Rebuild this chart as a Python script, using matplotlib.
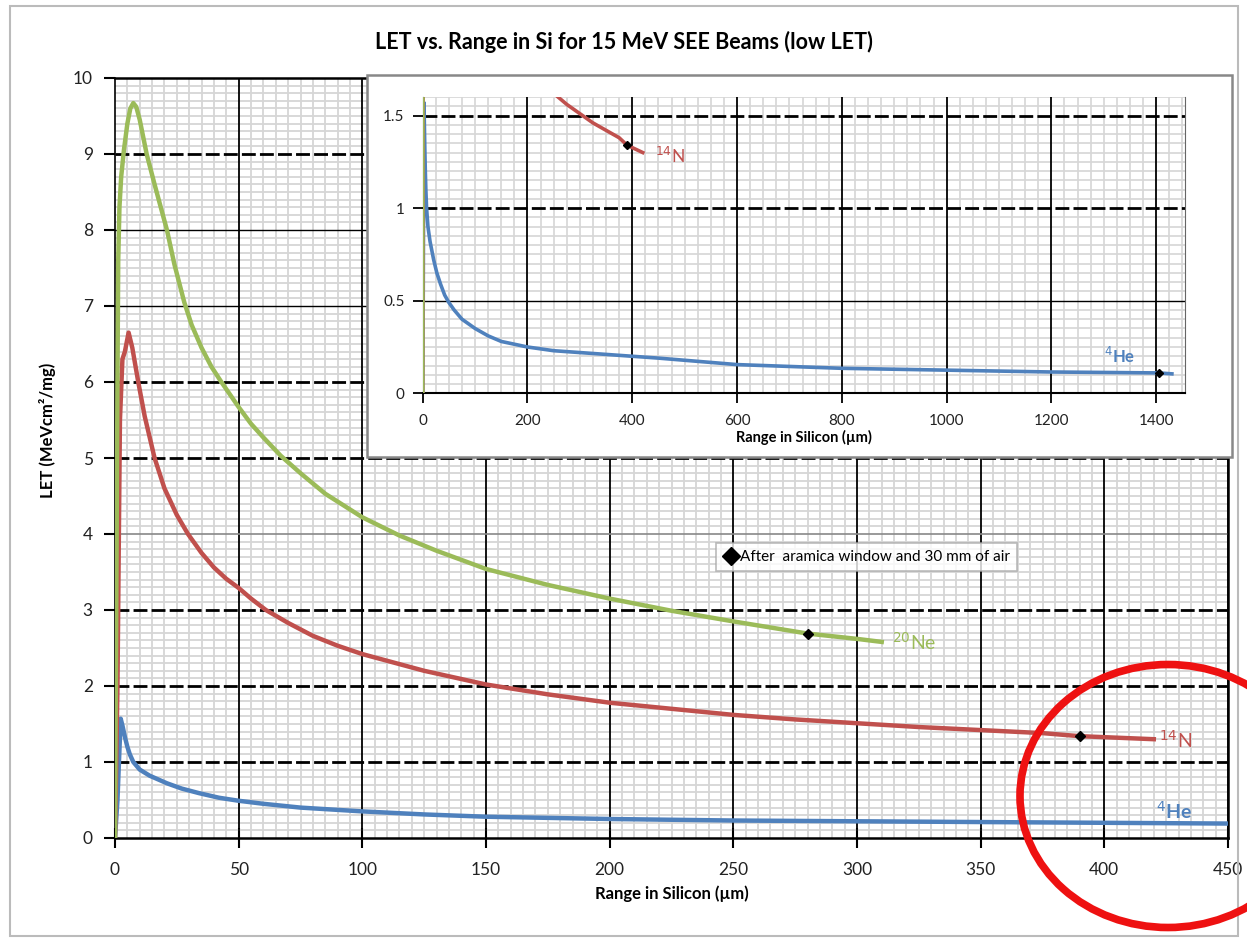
import matplotlib
matplotlib.use("Agg")
import matplotlib.pyplot as plt
from matplotlib.ticker import MultipleLocator, FuncFormatter
from matplotlib.patches import Rectangle, Ellipse
from matplotlib.lines import Line2D

plt.rcParams['font.family'] = ['Lato', 'DejaVu Sans']

# ---------------- data ----------------
ne_x = [0, 0.5, 1.0, 1.3, 1.8, 2.5, 3.6, 5.0, 6.2, 7.4, 8.6, 10, 12.8, 16, 21, 24, 28, 31, 35, 39, 43,
        50, 55, 60, 67, 75, 85, 100, 115, 130, 150, 175, 200, 225, 250, 265, 280, 300, 310]
ne_y = [0, 3.0, 6.0, 7.6, 8.3, 8.7, 9.05, 9.4, 9.6, 9.67, 9.62, 9.45, 9.0, 8.6, 8.0, 7.55, 7.05, 6.75,
        6.45, 6.2, 6.0, 5.67, 5.45, 5.27, 5.03, 4.8, 4.53, 4.22, 3.98, 3.78, 3.54, 3.33, 3.15, 2.99,
        2.85, 2.77, 2.69, 2.62, 2.58]

n_x = [0, 1.0, 2.0, 3.0, 4.0, 5.5, 7.0, 9.4, 12, 16, 20, 25, 29.5, 35, 40, 45, 50, 55, 61, 70, 80, 90,
       100, 125, 150, 175, 200, 225, 250, 275, 300, 325, 350, 375, 390, 405, 420]
n_y = [0, 2.0, 5.5, 6.3, 6.4, 6.65, 6.45, 6.0, 5.55, 5.0, 4.6, 4.25, 4.0, 3.75, 3.56, 3.41, 3.29, 3.15,
       3.0, 2.83, 2.66, 2.53, 2.42, 2.2, 2.02, 1.89, 1.78, 1.70, 1.62, 1.56, 1.51, 1.46, 1.42, 1.38,
       1.34, 1.32, 1.30]

he_x = [0, 1.0, 1.6, 2.3, 3.0, 4.0, 5.0, 6.0, 7.4, 10, 14, 21, 27, 34, 42, 50, 60, 75, 100, 125, 150,
        200, 250, 300, 350, 400, 450, 600, 800, 1000, 1200, 1405, 1430]
he_y = [0, 0.5, 1.0, 1.57, 1.48, 1.33, 1.2, 1.1, 1.0, 0.9, 0.82, 0.72, 0.65, 0.59, 0.53, 0.49, 0.45,
        0.40, 0.35, 0.31, 0.28, 0.25, 0.23, 0.22, 0.21, 0.20, 0.19, 0.155, 0.135, 0.125, 0.115, 0.11, 0.105]

# points "after aramica window and 30 mm of air"
ne_mark = (280, 2.69)
n_mark = (390, 1.34)
he_mark = (1405, 0.11)

title = "LET vs. Range in Si for 15 MeV SEE Beams (low LET)"
xlabel = "Range in Silicon (\u00b5m)"
ylabel = "LET (MeVcm\u00b2/mg)"
legend_label = "After  aramica window and 30 mm of air"

C_NE = "#9BBB59"
C_N = "#C0504D"
C_HE = "#4F81BD"

W, H = 1247, 941
fig = plt.figure(figsize=(W / 100, H / 100), dpi=100)


def fx(px):
    return px / W


def fy(py):
    return 1 - py / H


DASH = (0, (5, 1.5))

# ---------------- main axes ----------------
ax = fig.add_axes([fx(115), fy(838), fx(1228) - fx(115), fy(78) - fy(838)])
ax.set_xlim(0, 450)
ax.set_ylim(0, 10)
ax.xaxis.set_major_locator(MultipleLocator(50))
ax.yaxis.set_major_locator(MultipleLocator(1))
ax.xaxis.set_minor_locator(MultipleLocator(5))
ax.yaxis.set_minor_locator(MultipleLocator(0.1))
ax.grid(which='minor', color='#d6d6d6', lw=1.3)
ax.tick_params(which='minor', length=0)
ax.set_axisbelow(True)
for xv in range(50, 451, 50):
    ax.axvline(xv, color='black', lw=1.3, zorder=1)
for yv in [1, 2, 3, 5, 6, 9]:
    ax.axhline(yv, color='black', lw=2.0, ls=DASH, zorder=1)
for yv in [7, 8]:
    ax.axhline(yv, color='black', lw=1.0, zorder=1)
ax.axhline(4, color='#888888', lw=1.2, zorder=1)

ax.plot(he_x, he_y, color=C_HE, lw=3.2, zorder=3)
ax.plot(n_x, n_y, color=C_N, lw=3.2, zorder=3)
ax.plot(ne_x, ne_y, color=C_NE, lw=3.2, zorder=3)
ax.plot([ne_mark[0]], [ne_mark[1]], 'D', color='black', ms=5, zorder=4)
ax.plot([n_mark[0]], [n_mark[1]], 'D', color='black', ms=5, zorder=4)

for s in ['left', 'bottom', 'top', 'right']:
    ax.spines[s].set_color('black')
ax.spines['left'].set_linewidth(1.2)
ax.spines['bottom'].set_linewidth(1.8)
ax.spines['top'].set_linewidth(1.8)
ax.spines['right'].set_linewidth(1.8)
ax.tick_params(axis='x', direction='inout', length=14, width=1.5, pad=10, labelsize=12.5, labelcolor='#222222')
ax.tick_params(axis='y', direction='out', length=8, width=1.5, pad=8, labelsize=12.5, labelcolor='#222222')

ax.set_xlabel(xlabel, fontsize=12, fontweight='bold')
ax.xaxis.set_label_coords(0.5, -0.062)
ax.set_ylabel(ylabel, fontsize=12, fontweight='bold')
ax.yaxis.set_label_coords(-0.053, 0.537)

ax.text(314, 2.58, r"$^{20}$Ne", color=C_NE, fontsize=14, va='center', ha='left')
ax.text(422, 1.29, r"$^{14}$N", color=C_N, fontsize=14, va='center', ha='left')
ax.text(421, 0.36, r"$^{4}$He", color=C_HE, fontsize=14, va='center', ha='left', fontweight='bold')

handle = Line2D([], [], marker='D', color='black', ls='none', markersize=9)
leg = ax.legend([handle], [legend_label], loc='upper left', bbox_to_anchor=(0.54, 0.388),
                frameon=True, fancybox=False, edgecolor='#aaaaaa', fontsize=11,
                handletextpad=0.1, handlelength=1.0, borderpad=0.45, borderaxespad=0)
leg.get_frame().set_linewidth(1.2)
leg.set_zorder(6)

# ---------------- inset ----------------
box = Rectangle((fx(367), fy(457)), fx(1232) - fx(367), fy(75) - fy(457),
                transform=fig.transFigure, facecolor='white', edgecolor='#888888', lw=1.8, zorder=2)
fig.add_artist(box)

ax2 = fig.add_axes([fx(422.7), fy(393.3), fx(1185) - fx(422.7), fy(97) - fy(393.3)])
ax2.set_zorder(3)
ax2.set_xlim(0, 1455)
ax2.set_ylim(0, 1.6)
ax2.xaxis.set_major_locator(MultipleLocator(200))
ax2.yaxis.set_major_locator(MultipleLocator(0.5))
ax2.xaxis.set_minor_locator(MultipleLocator(25))
ax2.yaxis.set_minor_locator(MultipleLocator(0.05))
ax2.yaxis.set_major_formatter(FuncFormatter(lambda v, p: "%g" % v))
ax2.grid(which='minor', color='#d6d6d6', lw=1.2)
ax2.tick_params(which='minor', length=0)
ax2.set_axisbelow(True)
for xv in range(200, 1401, 200):
    ax2.axvline(xv, color='black', lw=1.3, zorder=1)
for yv in [1.0, 1.5]:
    ax2.axhline(yv, color='black', lw=2.0, ls=DASH, zorder=1)
ax2.axhline(0.5, color='black', lw=1.0, zorder=1)

ax2.plot(he_x, he_y, color=C_HE, lw=2.6, zorder=3)
ax2.plot(n_x, n_y, color=C_N, lw=2.6, zorder=3)
ax2.plot(ne_x, ne_y, color=C_NE, lw=2.6, zorder=3)
ax2.plot([n_mark[0]], [n_mark[1]], 'D', color='black', ms=4, zorder=4)
ax2.plot([he_mark[0]], [he_mark[1]], 'D', color='black', ms=4, zorder=4)

ax2.spines['top'].set_visible(False)
ax2.spines['right'].set_color('#666666')
ax2.spines['left'].set_color('black')
ax2.spines['bottom'].set_color('black')
ax2.spines['bottom'].set_linewidth(1.5)
ax2.tick_params(axis='x', direction='out', length=7, width=1.3, pad=8, labelsize=11, labelcolor='#222222')
ax2.tick_params(axis='y', direction='out', length=7, width=1.3, pad=6, labelsize=11, labelcolor='#222222')
ax2.set_xlabel(xlabel, fontsize=10.5, fontweight='bold', labelpad=1)

ax2.text(443, 1.28, r"$^{14}$N", color=C_N, fontsize=12.5, va='center', ha='left')
ax2.text(1300, 0.2, r"$^{4}$He", color=C_HE, fontsize=12, va='center', ha='left', fontweight='bold')

# ---------------- title, frame, annotation ----------------
fig.text(0.5, fy(42), title, ha='center', va='center', fontsize=15.5, fontweight='bold')

frame = Rectangle((fx(10), fy(936)), fx(1238) - fx(10), fy(6) - fy(936),
                  transform=fig.transFigure, fill=False, edgecolor='#bbbbbb', lw=1.5, zorder=1)
fig.add_artist(frame)

circ = Ellipse((fx(1168), fy(796)), width=296 / W, height=263 / H, transform=fig.transFigure,
               fill=False, edgecolor='#ee1111', lw=5.5, zorder=10)
fig.add_artist(circ)

fig.savefig("out.png", dpi=100)
